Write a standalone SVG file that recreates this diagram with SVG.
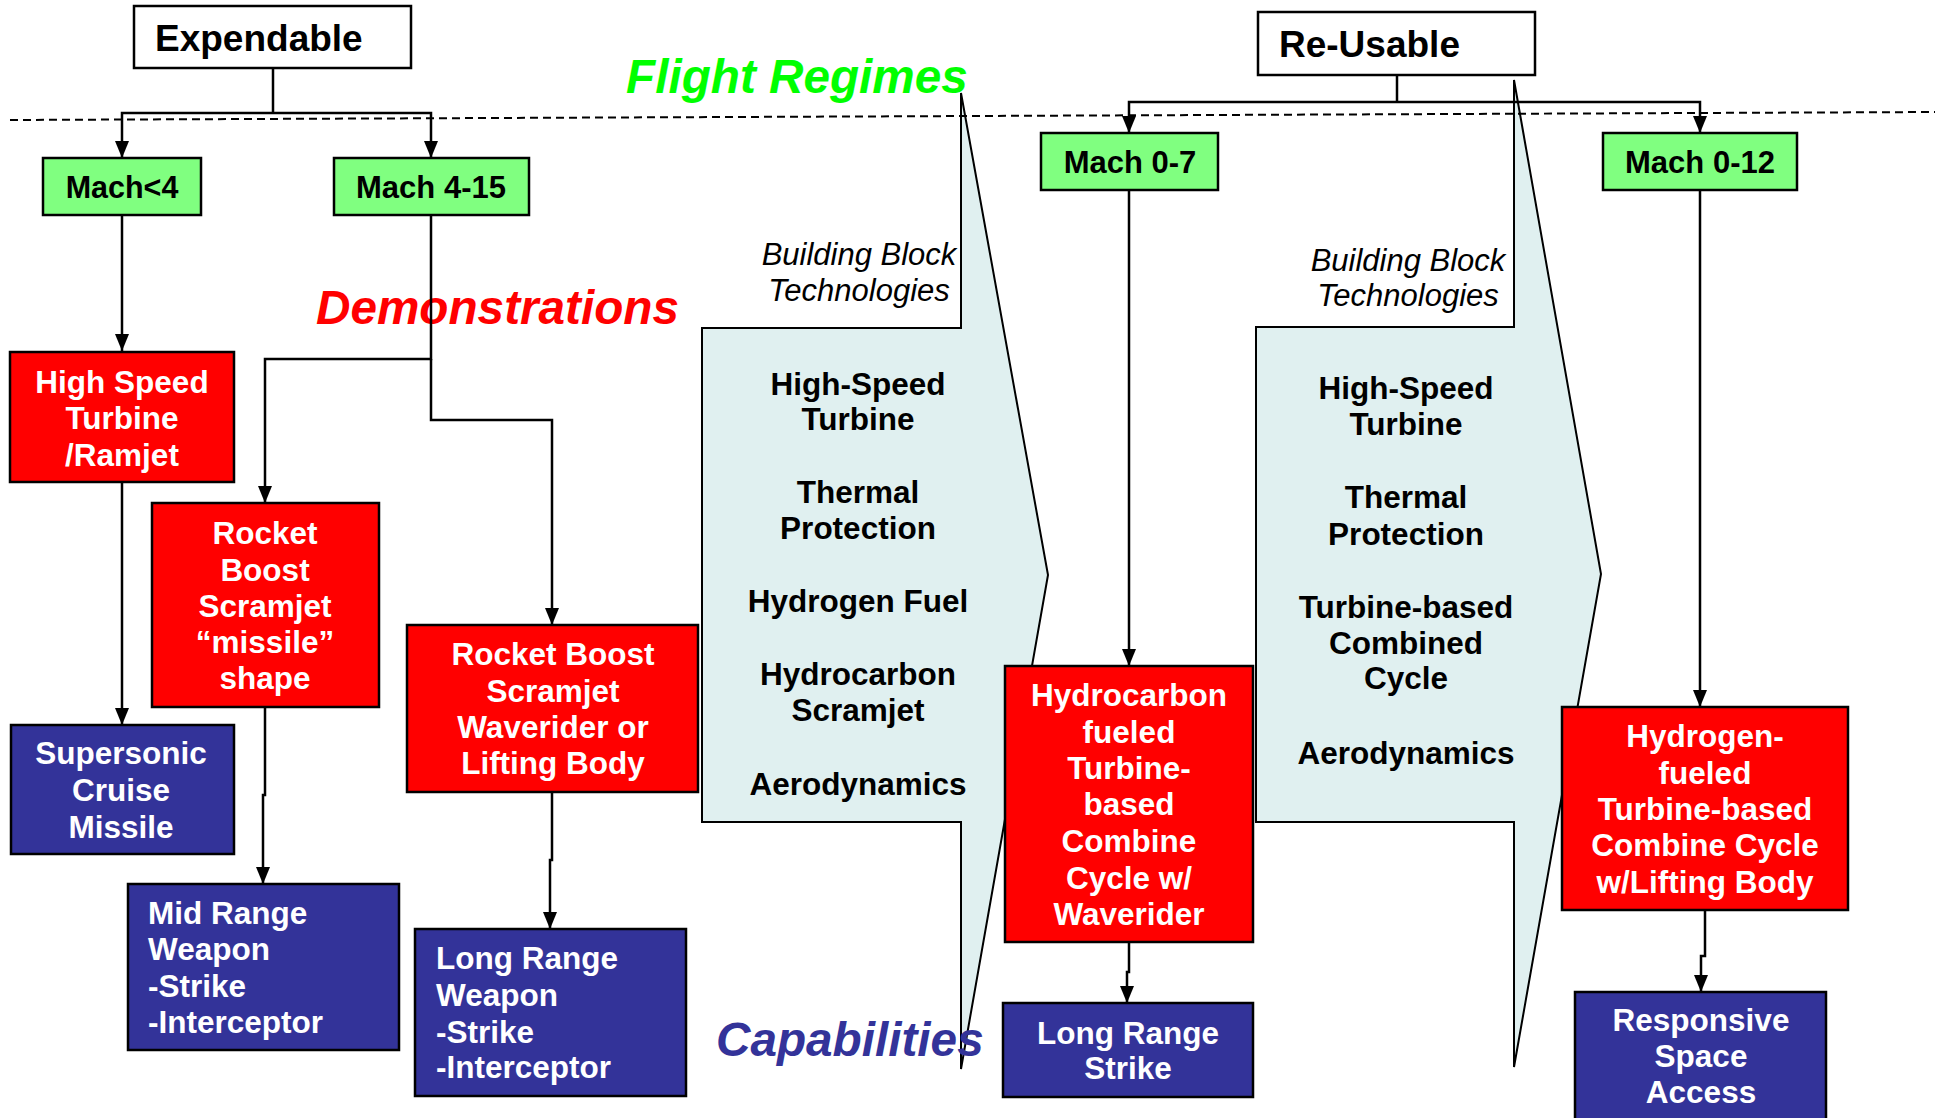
<svg xmlns="http://www.w3.org/2000/svg" width="1935" height="1118" viewBox="0 0 1935 1118">
<defs>
<style>
.box{stroke:#000;stroke-width:2.5}
.red{fill:#FF0000}
.blue{fill:#333399}
.green{fill:#80FF80}
.wht{fill:#FFFFFF}
.chev{fill:#E0F0F0;stroke:#000;stroke-width:2}
text{font-family:"Liberation Sans",Arial,Helvetica,sans-serif;font-weight:bold;font-size:31.5px}
.w{fill:#FFFFFF}
.k{fill:#000000}
.c{text-anchor:middle}
.it{font-style:italic;font-weight:normal;font-size:31px}
.title{font-style:italic;font-size:47.7px}
.conn{fill:none;stroke:#000;stroke-width:2.5}
.dash{fill:none;stroke:#000;stroke-width:2;stroke-dasharray:8 5}
</style>
<marker id="ah" markerUnits="userSpaceOnUse" viewBox="0 0 17 14" markerWidth="17" markerHeight="14" refX="17" refY="7" orient="auto">
<path d="M0,0 L17,7 L0,14 z" fill="#000"/>
</marker>
</defs>
<rect width="1935" height="1118" fill="#FFFFFF"/>

<g id="techArrow1">
<polygon class="chev" points="702,328 961,328 961,93 1048,575 961,1069 961,822 702,822"/>
<text class="k it c" x="859" y="265">Building Block</text>
<text class="k it c" x="859" y="301">Technologies</text>
<text class="k c" x="858" y="395">High-Speed</text>
<text class="k c" x="858" y="430">Turbine</text>
<text class="k c" x="858" y="503">Thermal</text>
<text class="k c" x="858" y="539">Protection</text>
<text class="k c" x="858" y="612">Hydrogen Fuel</text>
<text class="k c" x="858" y="685">Hydrocarbon</text>
<text class="k c" x="858" y="721">Scramjet</text>
<text class="k c" x="858" y="795">Aerodynamics</text>
</g>

<g id="techArrow2">
<polygon class="chev" points="1256,327 1514,327 1514,80 1601,574 1514,1067 1514,822 1256,822"/>
<text class="k it c" x="1408" y="271">Building Block</text>
<text class="k it c" x="1408" y="306">Technologies</text>
<text class="k c" x="1406" y="399">High-Speed</text>
<text class="k c" x="1406" y="435">Turbine</text>
<text class="k c" x="1406" y="508">Thermal</text>
<text class="k c" x="1406" y="545">Protection</text>
<text class="k c" x="1406" y="618">Turbine-based</text>
<text class="k c" x="1406" y="654">Combined</text>
<text class="k c" x="1406" y="689">Cycle</text>
<text class="k c" x="1406" y="764">Aerodynamics</text>
</g>

<line class="dash" x1="10" y1="120" x2="1935" y2="112"/>

<g id="labels">
<text class="title" x="626" y="93" fill="#00FF00">Flight Regimes</text>
<text class="title" x="316" y="324" fill="#FF0000">Demonstrations</text>
<text class="title" x="716" y="1056" fill="#333399">Capabilities</text>
</g>

<g id="connectors">
<path class="conn" d="M273,68 V113"/>
<path class="conn" d="M273,113 H122 V158" marker-end="url(#ah)"/>
<path class="conn" d="M273,113 H431 V158" marker-end="url(#ah)"/>
<path class="conn" d="M122,215 V351" marker-end="url(#ah)"/>
<path class="conn" d="M431,215 V359 H265 V503" marker-end="url(#ah)"/>
<path class="conn" d="M431,359 V420 H552 V625" marker-end="url(#ah)"/>
<path class="conn" d="M122,482 V725" marker-end="url(#ah)"/>
<path class="conn" d="M265,707 V795 H263 V884" marker-end="url(#ah)"/>
<path class="conn" d="M552,792 V860 H550 V929" marker-end="url(#ah)"/>
<path class="conn" d="M1397,75 V102"/>
<path class="conn" d="M1397,102 H1129 V133" marker-end="url(#ah)"/>
<path class="conn" d="M1397,102 H1700 V133" marker-end="url(#ah)"/>
<path class="conn" d="M1129,190 V666" marker-end="url(#ah)"/>
<path class="conn" d="M1700,190 V707" marker-end="url(#ah)"/>
<path class="conn" d="M1129,942 V972 H1127 V1003" marker-end="url(#ah)"/>
<path class="conn" d="M1705,910 V956 H1701 V992" marker-end="url(#ah)"/>
</g>

<g id="expendable">
<rect class="box wht" x="134" y="6" width="277" height="62"/>
<text class="k" x="155" y="51" style="font-size:37px">Expendable</text>
</g>
<g id="reusable">
<rect class="box wht" x="1258" y="12" width="277" height="63"/>
<text class="k" x="1279" y="57" style="font-size:37px">Re-Usable</text>
</g>
<g id="mach4">
<rect class="box green" x="43" y="158" width="158" height="57"/>
<text class="k c" x="122" y="198" style="font-size:30.5px">Mach&lt;4</text>
</g>
<g id="mach415">
<rect class="box green" x="334" y="158" width="195" height="57"/>
<text class="k c" x="431" y="198" style="font-size:31px">Mach 4-15</text>
</g>
<g id="mach07">
<rect class="box green" x="1041" y="133" width="177" height="57"/>
<text class="k c" x="1130" y="173" style="font-size:31px">Mach 0-7</text>
</g>
<g id="mach012">
<rect class="box green" x="1603" y="133" width="194" height="57"/>
<text class="k c" x="1700" y="173" style="font-size:31px">Mach 0-12</text>
</g>

<g id="hsTurbine">
<rect class="box red" x="10" y="352" width="224" height="130"/>
<text class="w c" x="122" y="393">High Speed</text>
<text class="w c" x="122" y="429">Turbine</text>
<text class="w c" x="122" y="466">/Ramjet</text>
</g>
<g id="rbMissile">
<rect class="box red" x="152" y="503" width="227" height="204"/>
<text class="w c" x="265" y="544">Rocket</text>
<text class="w c" x="265" y="581">Boost</text>
<text class="w c" x="265" y="617">Scramjet</text>
<text class="w c" x="265" y="653">“missile”</text>
<text class="w c" x="265" y="689">shape</text>
</g>
<g id="rbWaverider">
<rect class="box red" x="407" y="625" width="291" height="167"/>
<text class="w c" x="553" y="665">Rocket Boost</text>
<text class="w c" x="553" y="702">Scramjet</text>
<text class="w c" x="553" y="738">Waverider or</text>
<text class="w c" x="553" y="774">Lifting Body</text>
</g>
<g id="supersonic">
<rect class="box blue" x="11" y="725" width="223" height="129"/>
<text class="w c" x="121" y="764">Supersonic</text>
<text class="w c" x="121" y="801">Cruise</text>
<text class="w c" x="121" y="838">Missile</text>
</g>
<g id="midRange">
<rect class="box blue" x="128" y="884" width="271" height="166"/>
<text class="w" x="148" y="924">Mid Range</text>
<text class="w" x="148" y="960">Weapon</text>
<text class="w" x="148" y="997">-Strike</text>
<text class="w" x="148" y="1033">-Interceptor</text>
</g>
<g id="longRangeWeapon">
<rect class="box blue" x="415" y="929" width="271" height="167"/>
<text class="w" x="436" y="969">Long Range</text>
<text class="w" x="436" y="1006">Weapon</text>
<text class="w" x="436" y="1043">-Strike</text>
<text class="w" x="436" y="1078">-Interceptor</text>
</g>
<g id="hydrocarbon">
<rect class="box red" x="1005" y="666" width="248" height="276"/>
<text class="w c" x="1129" y="706">Hydrocarbon</text>
<text class="w c" x="1129" y="743">fueled</text>
<text class="w c" x="1129" y="779">Turbine-</text>
<text class="w c" x="1129" y="815">based</text>
<text class="w c" x="1129" y="852">Combine</text>
<text class="w c" x="1129" y="889">Cycle w/</text>
<text class="w c" x="1129" y="925">Waverider</text>
</g>
<g id="hydrogen">
<rect class="box red" x="1562" y="707" width="286" height="203"/>
<text class="w c" x="1705" y="747">Hydrogen-</text>
<text class="w c" x="1705" y="784">fueled</text>
<text class="w c" x="1705" y="820">Turbine-based</text>
<text class="w c" x="1705" y="856">Combine Cycle</text>
<text class="w c" x="1705" y="893">w/Lifting Body</text>
</g>
<g id="longRangeStrike">
<rect class="box blue" x="1003" y="1003" width="250" height="94"/>
<text class="w c" x="1128" y="1044">Long Range</text>
<text class="w c" x="1128" y="1079">Strike</text>
</g>
<g id="responsiveSpace">
<rect class="box blue" x="1575" y="992" width="251" height="140"/>
<text class="w c" x="1701" y="1031">Responsive</text>
<text class="w c" x="1701" y="1067">Space</text>
<text class="w c" x="1701" y="1103">Access</text>
</g>
</svg>
